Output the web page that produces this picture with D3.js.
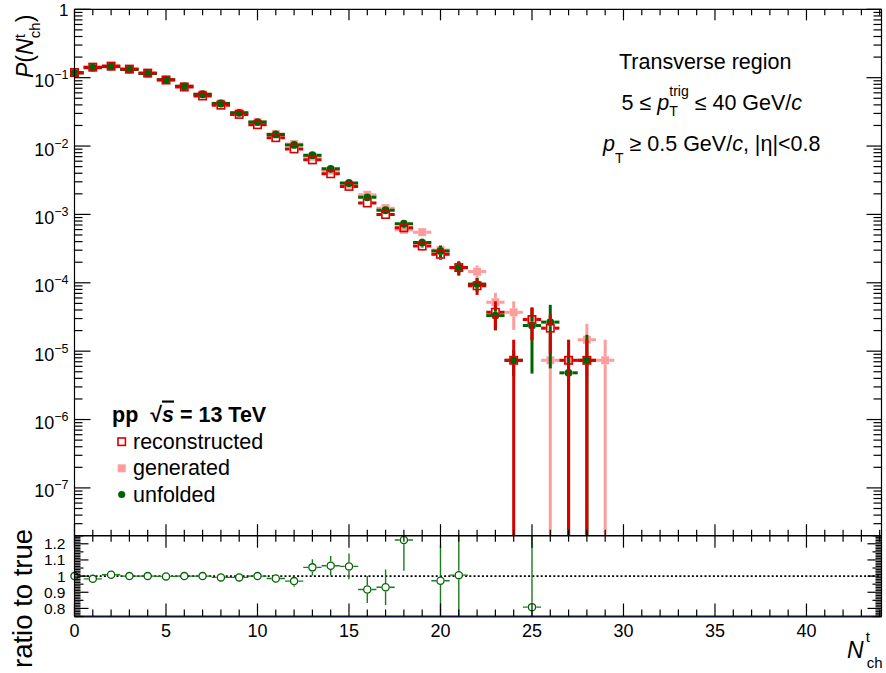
<!DOCTYPE html>
<html>
<head>
<meta charset="utf-8">
<script src="https://cdn.jsdelivr.net/npm/d3@7"></script>
<style>
  body { margin: 0; background: #fff; }
  svg { display: block; }
  text { font-family: "Liberation Sans", Arial, Helvetica, sans-serif; fill: #000; }
</style>
</head>
<body>
<svg id="chart" width="886" height="673"></svg>
<script>
// Multiplicity bins N_ch^t
const nch = [0, 1, 2, 3, 4, 5, 6, 7, 8, 9, 10, 11, 12, 13, 14, 15, 16, 17, 18, 19, 20, 21, 22, 23, 24, 25, 26, 27, 28, 29];

// Detector-level (reconstructed) distribution
const reconstructed = [0.119, 0.1426, 0.1476, 0.1334, 0.1167, 0.0923, 0.0730, 0.0540, 0.0396, 0.0290,
  0.0205, 0.01325, 0.00908, 0.00628, 0.00393, 0.00257, 0.00147, 0.000997, 0.000638, 0.000345,
  0.000261, 0.000167, 9.04e-5, 3.71e-5, 7.35e-6, 2.90e-5, 2.17e-5, 7.35e-6, 7.35e-6, null];
const reconstructedErr = [9.4e-4, 1.02e-3, 1.04e-3, 9.9e-4, 9.2e-4, 8.2e-4, 7.3e-4, 6.3e-4, 5.4e-4, 4.6e-4,
  3.9e-4, 3.1e-4, 2.6e-4, 2.1e-4, 1.7e-4, 1.37e-4, 1.04e-4, 8.6e-5, 6.8e-5, 5.0e-5,
  4.4e-5, 3.5e-5, 2.4e-5, 1.65e-5, 7.35e-6, 1.46e-5, 1.26e-5, 7.35e-6, 7.35e-6, null];

// Generator-level (true) distribution
const generated = [0.117, 0.1424, 0.1448, 0.132, 0.1155, 0.0937, 0.0748, 0.0572, 0.0421, 0.0308,
  0.0224, 0.01503, 0.01073, 0.00697, 0.00437, 0.00272, 0.00194, 0.001235, 0.000597, 0.00055,
  0.000301, 0.000166, 0.000146, 5.19e-5, 3.7e-5, 2.93e-5, 7.35e-6, 7.35e-6, 1.47e-5, 7.35e-6];
const generatedErr = [9.3e-4, 1.02e-3, 1.03e-3, 9.8e-4, 9.2e-4, 8.3e-4, 7.4e-4, 6.5e-4, 5.6e-4, 4.8e-4,
  4.1e-4, 3.3e-4, 2.8e-4, 2.26e-4, 1.79e-4, 1.41e-4, 1.19e-4, 9.5e-5, 6.6e-5, 6.4e-5,
  4.7e-5, 3.5e-5, 3.3e-5, 1.95e-5, 1.65e-5, 1.47e-5, 7.35e-6, 7.35e-6, 1.04e-5, 7.35e-6];

// Unfolded distribution
const unfolded = [0.117, 0.140, 0.146, 0.132, 0.1155, 0.0935, 0.0748, 0.0572, 0.0419, 0.0306,
  0.0224, 0.0148, 0.0104, 0.00735, 0.00465, 0.00288, 0.00178, 0.00115, 0.00073, 0.000387,
  0.000292, 0.000167, 9.57e-5, 3.31e-5, 7.35e-6, 2.37e-5, 2.66e-5, 4.82e-6, 7.35e-6, null];
const unfoldedErr = [1.2e-3, 1.3e-3, 1.3e-3, 1.2e-3, 1.1e-3, 1.0e-3, 9e-4, 8e-4, 7e-4, 6e-4,
  5e-4, 4e-4, 3.5e-4, 3e-4, 2.5e-4, 2e-4, 1.5e-4, 1.2e-4, 1.0e-4, 6e-5,
  6e-5, 4e-5, 2.2e-5, 1.3e-5, 3e-6, 1.9e-5, 2.1e-5, 4.8e-6, 1.0e-5, null];

// Unfolded / generated (null: outside the ratio panel range)
const ratio = [1.0, 0.983, 1.008, 1.0, 1.0, 0.998, 1.0, 1.0, 0.992, 0.992,
  1.0, 0.985, 0.969, 1.054, 1.064, 1.06, 0.917, 0.931, 1.223, null,
  0.971, 1.006, null, null, null, 0.808, null, null, null, null];
const ratioErr = [0.008, 0.008, 0.008, 0.008, 0.008, 0.009, 0.010, 0.011, 0.012, 0.014,
  0.016, 0.020, 0.035, 0.05, 0.06, 0.08, 0.083, 0.11, 0.19, null,
  0.22, 0.30, null, null, null, 0.80, null, null, null, null];

// Axis labels
const xTickLabels = [0, 5, 10, 15, 20, 25, 30, 35, 40];
const yDecades = [-7, -6, -5, -4, -3, -2, -1, 0];
const ratioTickValues = [0.8, 0.9, 1.0, 1.1, 1.2];
const ratioTickLabels = ["0.8", "0.9", "1", "1.1", "1.2"];

const legendEntries = [
  { label: "reconstructed", key: "reco" },
  { label: "generated", key: "gen" },
  { label: "unfolded", key: "unf" }
];

// ---- layout ----
const L = 74.5, R = 881.5, T = 9.3, MID = 535.7, B = 616.5;
const RED = "#d60000", PINK = "#ff9d9d", GREEN = "#006400";

const svg = d3.select("#chart");
const x = d3.scaleLinear().domain([0, 44.1]).range([L, R]);
const y = d3.scaleLog().domain([2e-8, 1]).range([MID, T]);
const yr = d3.scaleLinear().domain([0.75, 1.25]).range([B, MID]);

const defs = svg.append("defs");
defs.append("clipPath").attr("id", "clipTop")
  .append("rect").attr("x", L).attr("y", T).attr("width", R - L).attr("height", MID - T);
defs.append("clipPath").attr("id", "clipRatio")
  .append("rect").attr("x", L).attr("y", MID).attr("width", R - L).attr("height", B - MID);

// ---- error bars (clipped to the frame) ----
function drawBars(g, values, errs, yScale, yMin, color, gap, width) {
  nch.forEach((n, i) => {
    const v = values[i];
    if (v == null) return;
    const e = errs[i] || 0;
    const cx = x(n), cy = yScale(v);
    const segs = [];
    const xl = x(n - 0.5), xh = x(n + 0.5);
    if (cx - gap > xl) segs.push([xl, cy, cx - gap, cy]);
    if (xh > cx + gap) segs.push([cx + gap, cy, xh, cy]);
    const yTop = yScale(v + e);
    const yBot = yScale(Math.max(v - e, yMin));
    if (cy - gap > yTop) segs.push([cx, yTop, cx, cy - gap]);
    if (yBot > cy + gap) segs.push([cx, cy + gap, cx, yBot]);
    segs.forEach(s => g.append("line")
      .attr("x1", s[0]).attr("y1", s[1]).attr("x2", s[2]).attr("y2", s[3])
      .attr("stroke", color).attr("stroke-width", width));
  });
}

const yMinTop = y.domain()[0];

// generated
const gGenBars = svg.append("g").attr("clip-path", "url(#clipTop)");
drawBars(gGenBars, generated, generatedErr, y, yMinTop, PINK, 4, 3);
const gGen = svg.append("g");
nch.forEach((n, i) => {
  if (generated[i] == null) return;
  gGen.append("rect").attr("x", x(n) - 4).attr("y", y(generated[i]) - 4)
    .attr("width", 8).attr("height", 8).attr("fill", PINK);
});

// unfolded
const gUnfBars = svg.append("g").attr("clip-path", "url(#clipTop)");
drawBars(gUnfBars, unfolded, unfoldedErr, y, yMinTop, GREEN, 4, 3);
const gUnf = svg.append("g");
nch.forEach((n, i) => {
  if (unfolded[i] == null) return;
  gUnf.append("circle").attr("cx", x(n)).attr("cy", y(unfolded[i])).attr("r", 3.9).attr("fill", GREEN);
});

// reconstructed
const gRecoBars = svg.append("g").attr("clip-path", "url(#clipTop)");
drawBars(gRecoBars, reconstructed, reconstructedErr, y, yMinTop, RED, 4.5, 3);
const gReco = svg.append("g");
nch.forEach((n, i) => {
  if (reconstructed[i] == null) return;
  gReco.append("rect").attr("x", x(n) - 3.7).attr("y", y(reconstructed[i]) - 3.7)
    .attr("width", 7.4).attr("height", 7.4).attr("fill", "none")
    .attr("stroke", RED).attr("stroke-width", 1.6);
});

// ---- ratio panel ----
const rp = svg.append("g").attr("clip-path", "url(#clipRatio)");
rp.append("line").attr("x1", L).attr("x2", R).attr("y1", yr(1)).attr("y2", yr(1))
  .attr("stroke", "#000").attr("stroke-width", 1.6).attr("stroke-dasharray", "2,2.2");
drawBars(rp, ratio, ratioErr, yr, 0.75, "#1e7a1e", 4.3, 1.4);
const rpMarks = svg.append("g");
nch.forEach((n, i) => {
  if (ratio[i] == null) return;
  rpMarks.append("circle").attr("cx", x(n)).attr("cy", yr(ratio[i])).attr("r", 3.6)
    .attr("fill", "#fff").attr("stroke", GREEN).attr("stroke-width", 1.3);
});

// ---- axes ----
const ax = svg.append("g").attr("stroke", "#000").attr("stroke-width", 1.2);
function tick(x1, y1, x2, y2) {
  ax.append("line").attr("x1", x1).attr("y1", y1).attr("x2", x2).attr("y2", y2);
}
// frame lines
tick(L, T, R, T);
tick(L, T, L, B);
tick(R, T, R, B);
ax.append("line").attr("x1", L).attr("y1", MID).attr("x2", R).attr("y2", MID).attr("stroke-width", 1.6);
ax.append("line").attr("x1", L).attr("y1", B).attr("x2", R).attr("y2", B).attr("stroke", "#0d1030").attr("stroke-width", 1.8);

// x ticks (every unit, long every 5)
d3.range(0, 45).forEach(n => {
  const xx = x(n);
  if (xx > R + 0.1) return;
  const major = n % 5 === 0;
  tick(xx, T, xx, T + (major ? 11 : 6));
  tick(xx, MID, xx, MID - (major ? 11.5 : 6));
  tick(xx, MID, xx, MID + (major ? 12 : 6));
  tick(xx, B, xx, B - (major ? 13 : 7));
});

// log y ticks
yDecades.forEach(k => {
  const yy = y(Math.pow(10, k));
  tick(L, yy, L + 16, yy);
  tick(R, yy, R - 15, yy);
});
d3.range(-8, 0).forEach(k => {
  d3.range(2, 10).forEach(m => {
    const v = m * Math.pow(10, k);
    if (v < y.domain()[0]) return;
    const yy = y(v);
    tick(L, yy, L + 8, yy);
    tick(R, yy, R - 8, yy);
  });
});

// ratio y ticks
d3.range(75, 126).forEach(j => {
  const v = j / 100;
  const yy = yr(v);
  const len = j % 10 === 0 ? 14 : (j % 5 === 0 ? 9 : 6);
  tick(L, yy, L + len, yy);
  tick(R, yy, R - len, yy);
});

// ---- tick labels ----
const labels = svg.append("g");
xTickLabels.forEach(v => {
  labels.append("text").attr("x", x(v)).attr("y", 637).attr("text-anchor", "middle")
    .attr("font-size", 18).text(v);
});
yDecades.forEach(k => {
  const yy = y(Math.pow(10, k));
  if (k === 0) {
    labels.append("text").attr("x", 68.5).attr("y", yy + 6.5).attr("text-anchor", "end")
      .attr("font-size", 17).text("1");
    return;
  }
  const t = labels.append("text").attr("x", 68.5).attr("y", yy + 9.5).attr("text-anchor", "end");
  t.append("tspan").attr("font-size", 18).text("10");
  t.append("tspan").attr("font-size", 12.5).attr("dy", -8).text("\u2212" + Math.abs(k));
});
ratioTickValues.forEach((v, i) => {
  labels.append("text").attr("x", 65.5).attr("y", yr(v) + 5.5).attr("text-anchor", "end")
    .attr("font-size", 15.5).text(ratioTickLabels[i]);
});

// ---- axis titles ----
const yt = svg.append("text").attr("transform", "translate(33,78) rotate(-90)").attr("font-size", 23);
yt.append("tspan").attr("font-style", "italic").text("P");
yt.append("tspan").text("(");
yt.append("tspan").attr("font-style", "italic").text("N");
yt.append("tspan").attr("font-size", 15).attr("dy", -8).text("t");
yt.append("tspan").attr("font-size", 15).attr("dx", -4).attr("dy", 15).text("ch");
yt.append("tspan").attr("dy", -7).text(")");

svg.append("text").attr("transform", "translate(32,668) rotate(-90)").attr("font-size", 27.5)
  .text("ratio to true");

const xt = svg.append("text").attr("x", 847).attr("y", 658).attr("font-size", 23);
xt.append("tspan").attr("font-style", "italic").text("N");
xt.append("tspan").attr("font-size", 15).attr("dx", 2).attr("dy", -16).text("t");
xt.append("tspan").attr("font-size", 15).attr("dx", -3).attr("dy", 26).text("ch");

// ---- annotations ----
const ann = svg.append("g").attr("font-size", 21.5);
ann.append("text").attr("x", 619).attr("y", 68.5).text("Transverse region");
const a2 = ann.append("text").attr("x", 621.5).attr("y", 109.5);
a2.append("tspan").text("5 \u2264 ");
a2.append("tspan").attr("font-style", "italic").text("p");
a2.append("tspan").attr("font-size", 14).attr("dy", 6).text("T");
a2.append("tspan").attr("font-size", 14).attr("dx", -8.5).attr("dy", -20).text("trig");
a2.append("tspan").attr("dy", 14).text(" \u2264 40 GeV/");
a2.append("tspan").attr("font-style", "italic").text("c");
const a3 = ann.append("text").attr("x", 603).attr("y", 150.5);
a3.append("tspan").attr("font-style", "italic").text("p");
a3.append("tspan").attr("font-size", 14).attr("dy", 12).text("T");
a3.append("tspan").attr("dy", -12).text(" \u2265 0.5 GeV/");
a3.append("tspan").attr("font-style", "italic").text("c");
a3.append("tspan").text(", |\u03b7|<0.8");

// ---- legend ----
const leg = svg.append("g");
const head = leg.append("text").attr("x", 112).attr("y", 421.5).attr("font-size", 21.5).attr("font-weight", "bold");
head.append("tspan").text("pp\u00a0\u00a0\u221a");
head.append("tspan").attr("font-style", "italic").style("text-decoration", "overline").text("s");
head.append("tspan").text(" = 13 TeV");

const rowY = [441.7, 468.3, 494.5];
legendEntries.forEach((d, i) => {
  const cy = rowY[i];
  if (d.key === "reco") {
    leg.append("rect").attr("x", 121.7 - 3.7).attr("y", cy - 3.7).attr("width", 7.4).attr("height", 7.4)
      .attr("fill", "none").attr("stroke", RED).attr("stroke-width", 1.6);
  } else if (d.key === "gen") {
    leg.append("rect").attr("x", 121.7 - 4).attr("y", cy - 4).attr("width", 8).attr("height", 8).attr("fill", PINK);
  } else {
    leg.append("circle").attr("cx", 121.7).attr("cy", cy).attr("r", 3.6).attr("fill", GREEN);
  }
  leg.append("text").attr("x", 133).attr("y", cy + 7).attr("font-size", 21.5).text(d.label);
});
</script>
</body>
</html>
